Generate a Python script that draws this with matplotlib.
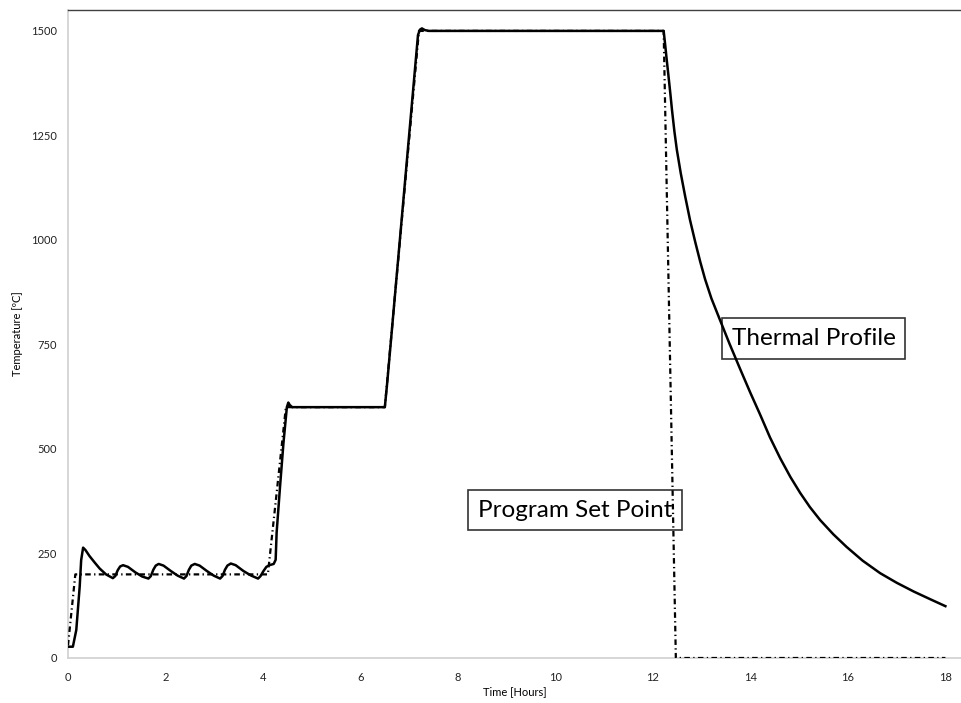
import matplotlib
matplotlib.use('Agg')
import matplotlib.pyplot as plt

# thermal profile (solid line)
thermal_t = [0.0, 0.1, 0.17, 0.24, 0.27, 0.31, 0.36, 0.44, 0.55, 0.65, 0.78,
             0.92, 0.97, 1.02, 1.07, 1.13, 1.23, 1.38, 1.52,
             1.65, 1.70, 1.75, 1.80, 1.86, 1.96, 2.11, 2.25,
             2.38, 2.43, 2.48, 2.53, 2.60, 2.70, 2.85, 2.99,
             3.12, 3.17, 3.22, 3.27, 3.34, 3.44, 3.60, 3.76,
             3.90, 3.95, 4.01, 4.07, 4.13, 4.22, 4.26, 4.28, 4.35, 4.42, 4.49,
             4.52, 4.55, 4.60, 6.50, 6.55, 7.18, 7.22, 7.26, 7.32, 7.40,
             12.22, 12.25, 12.28, 12.32, 12.36, 12.39, 12.44, 12.49, 12.57,
             12.66, 12.76, 12.87, 12.97, 13.07, 13.20, 13.35, 13.57, 13.79,
             14.00, 14.20, 14.40, 14.61, 14.82, 15.02, 15.22, 15.43, 15.70,
             15.97, 16.30, 16.66, 17.00, 17.35, 17.70, 18.0]
thermal_T = [27, 27, 67, 171, 234, 264, 258, 244, 228, 214, 200,
             191, 196, 210, 219, 222, 218, 205, 195,
             190, 196, 211, 221, 225, 221, 208, 197,
             190, 196, 211, 221, 225, 221, 208, 197,
             190, 196, 211, 221, 226, 222, 208, 197,
             190, 196, 208, 218, 222, 225, 235, 300, 410, 514, 600,
             611, 605, 600, 600, 660, 1490, 1503, 1506, 1502, 1500,
             1500, 1468, 1434, 1391, 1347, 1312, 1260, 1216, 1160,
             1105, 1048, 994, 948, 906, 860, 816, 752, 691,
             634, 582, 528, 478, 433, 395, 361, 330, 296,
             266, 233, 203, 180, 159, 140, 124]

# program set point (dash-dot line)
setpoint_t = [0.0, 0.15, 4.1, 4.47, 6.5, 7.2, 12.22, 12.47, 18.0]
setpoint_T = [30, 200, 200, 600, 600, 1500, 1500, 0, 0]

x_ticks = [0, 2, 4, 6, 8, 10, 12, 14, 16, 18]
y_ticks = [0, 250, 500, 750, 1000, 1250, 1500]

plt.rcParams['font.family'] = ['Lato', 'DejaVu Sans']

fig = plt.figure(figsize=(9.61, 7.03), dpi=100)
ax = fig.add_axes([68 / 961, 45 / 703, 893 / 961, 648 / 703])

ax.plot(thermal_t, thermal_T, color='black', lw=1.8, solid_joinstyle='round', zorder=3)
ax.plot(setpoint_t, setpoint_T, color='black', lw=1.6,
        linestyle=(0, (2.5, 1.5, 0.6, 1.5)), zorder=4)

ax.set_xlim(0, 18.32)
ax.set_ylim(0, 1550)
ax.set_xticks(x_ticks)
ax.set_yticks(y_ticks)
ax.tick_params(length=0, labelsize=8, colors='#222222')
ax.tick_params(axis='y', pad=8)
ax.tick_params(axis='x', pad=10)

for side in ('left', 'bottom'):
    ax.spines[side].set_color('#d0d0d0')
    ax.spines[side].set_linewidth(1.2)
ax.spines['top'].set_color('#404040')
ax.spines['top'].set_linewidth(1.0)
ax.spines['right'].set_visible(False)

ax.set_xlabel('Time [Hours]', fontsize=8, labelpad=2)
ax.set_ylabel('Temperature [ºC]', fontsize=8, labelpad=6)

box = dict(boxstyle='square,pad=0.4', facecolor='white', edgecolor='#333333', lw=1.2)
ax.text(15.3, 764, 'Thermal Profile', fontsize=17.5, ha='center', va='center',
        bbox=box, zorder=2)
ax.text(10.4, 354, 'Program Set Point', fontsize=17.5, ha='center', va='center',
        bbox=box, zorder=2)

fig.savefig('out.png', dpi=100)
